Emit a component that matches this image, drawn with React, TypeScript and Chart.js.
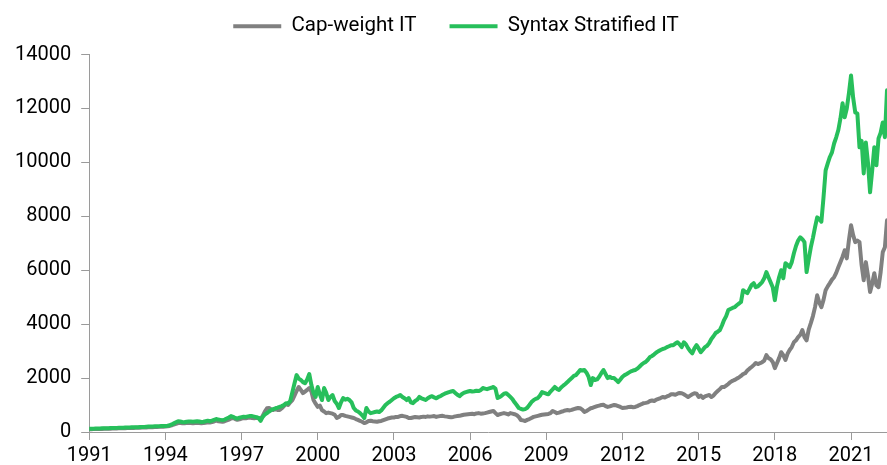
import React, { useEffect, useRef } from 'react';
import { Chart, registerables } from 'chart.js';

Chart.register(...registerables);

const START_YEAR = 1991;
const TICK_STEP_MONTHS = 36;
const seriesNames = ['Cap-weight IT', 'Syntax Stratified IT'];
const yTicks = [0, 2000, 4000, 6000, 8000, 10000, 12000, 14000];

// Monthly values, Jan 1991 .. Jun 2022
const capWeight = [
  100, 103, 108, 110, 112, 115, 113, 118, 120, 122, 125, 128,
  130, 132, 135, 138, 140, 142, 145, 148, 150, 152, 155, 158,
  160, 163, 168, 170, 175, 178, 180, 182, 186, 190, 195, 198,
  200, 210, 225, 250, 280, 300, 330, 340, 325, 320, 330, 335,
  330, 320, 335, 340, 330, 320, 330, 345, 360, 350, 370, 390,
  420, 400, 390, 380, 400, 430, 460, 500, 520, 480, 450, 470,
  500, 520, 510, 530, 540, 520, 510, 530, 520, 480, 600, 760,
  880, 890, 840, 815, 850, 820, 815, 880, 960, 1040, 1000, 1100,
  1185, 1350, 1520, 1670, 1560, 1440, 1500, 1560, 1630, 1500, 1185, 1050,
  930, 980, 815, 760, 700, 720, 700, 680, 640, 520, 560, 630,
  630, 600, 580, 560, 540, 520, 480, 450, 410, 380, 330, 360,
  410, 420, 400, 390, 380, 400, 410, 440, 470, 500, 520, 540,
  540, 560, 560, 590, 600, 580, 560, 520, 520, 540, 560, 550,
  540, 560, 570, 560, 580, 570, 580, 590, 560, 580, 590, 600,
  580, 570, 560, 550, 560, 580, 590, 600, 620, 640, 650, 660,
  670, 680, 660, 690, 700, 680, 690, 700, 720, 740, 760, 780,
  700, 630, 660, 680, 700, 680, 650, 700, 680, 660, 630, 560,
  445, 430, 410, 450, 480, 520, 560, 580, 600, 620, 640, 650,
  660, 670, 700, 780, 740, 700, 720, 750, 770, 800, 815, 800,
  820, 850, 870, 890, 880, 830, 740, 780, 830, 880, 900, 930,
  960, 980, 1000, 1010, 960, 930, 950, 980, 1000, 990, 960, 930,
  890, 900, 910, 930, 940, 920, 930, 960, 1000, 1030, 1070, 1080,
  1100, 1150, 1170, 1150, 1200, 1230, 1260, 1300, 1280, 1320, 1350, 1400,
  1400, 1380, 1420, 1450, 1440, 1400, 1350, 1300, 1350, 1400, 1440, 1420,
  1300, 1350, 1260, 1320, 1350, 1370, 1300, 1350, 1450, 1520, 1590, 1670,
  1670, 1720, 1780, 1850, 1900, 1930, 1980, 2020, 2080, 2150, 2180, 2280,
  2350, 2410, 2480, 2560, 2520, 2550, 2590, 2650, 2850, 2740, 2700, 2600,
  2370, 2550, 2740, 2960, 2850, 2670, 2900, 3040, 3150, 3330, 3400, 3520,
  3600, 3780, 3520, 3400, 3800, 4040, 4300, 4630, 5070, 4800, 4630, 4900,
  5260, 5400, 5520, 5650, 5740, 5900, 6110, 6300, 6500, 6740, 6440, 7110,
  7670, 7300, 7040, 7100, 7040, 6190, 5630, 6300, 5800, 5190, 5500, 5890,
  5440, 5370, 5930, 6670, 6850, 7850,
];

const syntaxStratified = [
  120, 122, 125, 128, 130, 133, 135, 138, 140, 142, 145, 148,
  150, 153, 156, 160, 162, 165, 168, 170, 172, 175, 178, 180,
  185, 188, 190, 195, 200, 205, 208, 210, 212, 215, 218, 220,
  225, 235, 250, 280, 320, 360, 400, 390, 370, 360, 380, 390,
  390, 380, 390, 400, 390, 370, 380, 400, 420, 400, 420, 450,
  480, 460, 450, 440, 460, 500, 540, 590, 560, 520, 500, 530,
  550, 570, 560, 580, 590, 590, 570, 550, 520, 410, 560, 650,
  700, 760, 815, 850, 880, 900, 930, 960, 1000, 1070, 1060, 1150,
  1480, 1800, 2110, 1980, 1930, 1850, 1810, 1950, 2150, 1740, 1450, 1300,
  1670, 1400, 1185, 1630, 1450, 1185, 1300, 1370, 1150, 1050, 890, 1100,
  1260, 1200, 1230, 1185, 1100, 890, 800, 760, 700, 620, 520, 890,
  760, 700, 720, 740, 760, 740, 800, 900, 1000, 1070, 1120, 1185,
  1250, 1300, 1330, 1370, 1300, 1250, 1185, 1260, 1100, 1070, 1150, 1200,
  1300, 1250, 1220, 1185, 1250, 1300, 1330, 1280, 1250, 1300, 1330, 1380,
  1420, 1450, 1480, 1500, 1520, 1450, 1380, 1330, 1400, 1450, 1480, 1500,
  1520, 1500, 1510, 1530, 1520, 1550, 1630, 1610, 1590, 1620, 1640, 1670,
  1600, 1260, 1300, 1350, 1420, 1440, 1380, 1300, 1220, 1100, 1000, 890,
  860, 830, 850, 900, 1000, 1110, 1180, 1230, 1260, 1350, 1480, 1450,
  1420, 1400, 1500, 1580, 1670, 1600, 1560, 1650, 1720, 1780, 1850, 1930,
  2000, 2080, 2110, 2200, 2300, 2280, 2300, 2200, 2040, 1740, 2000, 1930,
  1950, 2050, 2180, 2300, 2150, 2000, 2050, 2000, 2000, 1930, 1850, 1950,
  2050, 2110, 2150, 2200, 2250, 2280, 2300, 2350, 2420, 2500, 2560, 2600,
  2680, 2780, 2820, 2880, 2950, 3000, 3040, 3080, 3100, 3150, 3180, 3220,
  3220, 3280, 3330, 3250, 3150, 3330, 3250, 3110, 3000, 2920, 3100, 3220,
  3100, 2960, 3050, 3150, 3200, 3300, 3450, 3550, 3670, 3720, 3780, 3950,
  4150, 4300, 4520, 4560, 4600, 4630, 4700, 4760, 4820, 5260, 5200, 5150,
  5300, 5450, 5520, 5370, 5400, 5480, 5560, 5700, 5930, 5740, 5550, 5370,
  4890, 5400, 5740, 6000, 5700, 6260, 6200, 6110, 6300, 6630, 6900, 7100,
  7220, 7150, 7040, 5930, 6400, 6850, 7200, 7600, 7960, 7900, 7800, 8700,
  9700, 9960, 10200, 10370, 10700, 10930, 11200, 11630, 12190, 11670, 12000, 12560,
  13220, 12400, 11850, 11810, 10560, 10800, 9590, 10740, 10000, 8890, 9700, 10560,
  9890, 10890, 11100, 11480, 10930, 12670,
];

const GRAY = '#808080';
const GREEN = '#27bf5b';
const AXIS = '#9a9a9a';
const FONT = 'Roboto';

const legendShift = {
  id: 'legendShift',
  afterLayout(chart: any) {
    if (chart.legend) {
      chart.legend.left += 10;
      chart.legend.right += 10;
    }
  },
};

export default function App() {
  const ref = useRef<HTMLCanvasElement>(null);

  useEffect(() => {
    if (!ref.current) return;
    const toPoints = (arr: number[]) => arr.map((v, i) => ({ x: i, y: v }));
    const chart = new Chart(ref.current, {
      type: 'line',
      data: {
        datasets: [
          {
            label: seriesNames[0],
            data: toPoints(capWeight),
            borderColor: GRAY,
            backgroundColor: GRAY,
            borderWidth: 4,
            pointRadius: 0,
            pointHoverRadius: 0,
            borderJoinStyle: 'round',
            borderCapStyle: 'round',
            tension: 0,
            order: 1,
          },
          {
            label: seriesNames[1],
            data: toPoints(syntaxStratified),
            borderColor: GREEN,
            backgroundColor: GREEN,
            borderWidth: 4,
            pointRadius: 0,
            pointHoverRadius: 0,
            borderJoinStyle: 'round',
            borderCapStyle: 'round',
            tension: 0,
            order: 0,
          },
        ],
      },
      plugins: [legendShift],
      options: {
        responsive: false,
        animation: false,
        devicePixelRatio: 1,
        layout: { padding: { top: -17, left: 5, right: 0, bottom: -7 } },
        plugins: {
          tooltip: { enabled: false },
          title: {
            display: true,
            text: '',
            weight: 100,
            font: { size: 1, lineHeight: 1 },
            padding: { top: 0, bottom: 7 },
          },
          legend: {
            position: 'top',
            weight: 1000,
            labels: {
              usePointStyle: true,
              pointStyle: 'line',
              pointStyleWidth: 48,
              padding: 33,
              color: '#000',
              font: { family: FONT, size: 20.5 },
              sort: (a: any, b: any) => a.datasetIndex - b.datasetIndex,
            },
          },
        },
        scales: {
          x: {
            type: 'linear',
            min: 0,
            max: capWeight.length - 1,
            grid: { drawOnChartArea: false, drawTicks: true, tickLength: 8, color: AXIS },
            border: { display: true, color: AXIS, width: 1 },
            ticks: {
              stepSize: TICK_STEP_MONTHS,
              includeBounds: false,
              autoSkip: false,
              maxRotation: 0,
              padding: 6,
              color: '#000',
              font: { family: FONT, size: 20, lineHeight: 1 },
              callback: (v: any) =>
                Number(v) % TICK_STEP_MONTHS === 0 ? String(START_YEAR + Number(v) / 12) : null,
            },
          },
          y: {
            min: yTicks[0],
            max: yTicks[yTicks.length - 1],
            grid: { drawOnChartArea: false, drawTicks: true, tickLength: 8, color: AXIS },
            border: { display: true, color: AXIS, width: 1 },
            afterBuildTicks: (axis: any) => {
              axis.ticks = yTicks.map((v) => ({ value: v }));
            },
            ticks: {
              padding: 10,
              color: '#000',
              font: { family: FONT, size: 20 },
              callback: (v: any) => String(v),
            },
          },
        },
      },
    });
    return () => chart.destroy();
  }, []);

  return (
    <div style={{ position: 'absolute', left: 0, top: 0, width: 887, height: 465 }}>
      <canvas ref={ref} width={887} height={465} />
    </div>
  );
}
